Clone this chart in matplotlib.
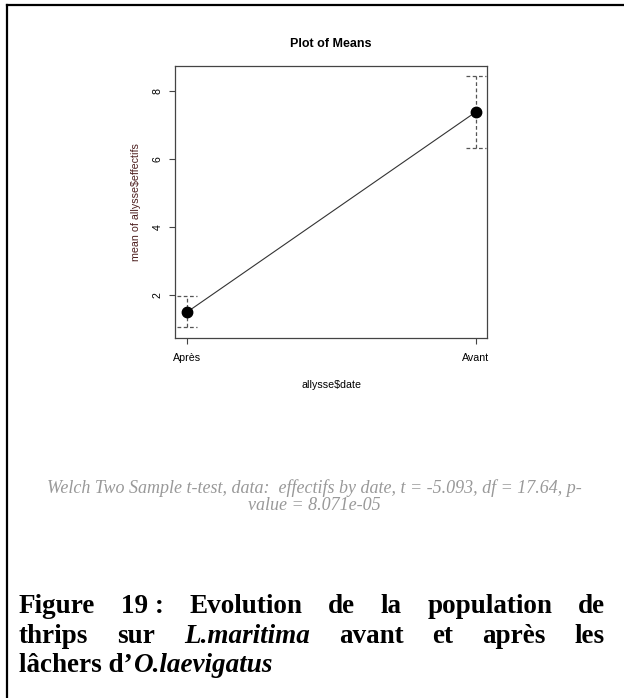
import matplotlib
matplotlib.use('Agg')
import matplotlib.pyplot as plt
from matplotlib.lines import Line2D

# data
groups = ['Après', 'Avant']
means = [1.50, 7.38]
upper = [1.97, 8.42]
lower = [1.05, 6.32]
yticks = [2, 4, 6, 8]

ttest_text = ('Welch Two Sample t-test, data:  effectifs by date, t = -5.093, df = 17.64, p-\n'
              'value = 8.071e-05')

fig = plt.figure(figsize=(6.24, 6.98), dpi=100)
W, H = 624, 698

ax = fig.add_axes([175 / W, 1 - 338 / H, 312 / W, 272 / H])
x = list(range(len(groups)))

ax.plot(x, means, color='#333333', lw=0.8, zorder=2)
ax.plot(x, means, 'o', color='black', markersize=7.5, zorder=3)
ax.vlines(x, lower, upper, colors='#555555', linestyles=(0, (3, 2)), lw=0.9)
cap = 0.035
for xi, lo, hi in zip(x, lower, upper):
    ax.hlines([lo, hi], xi - cap, xi + cap, colors='#555555', linestyles=(0, (3, 2)), lw=0.9)

ax.set_xlim(-0.042, 1.038)
ax.set_ylim(0.737, 8.725)
ax.set_xticks(x)
ax.set_xticklabels(groups, fontsize=7.7, family='Liberation Sans')
ax.set_yticks(yticks)
ax.set_yticklabels([str(t) for t in yticks], fontsize=7.7, family='Liberation Sans',
                   rotation=90, va='center')
ax.tick_params(axis='both', direction='out', length=4, width=0.8, color='#444444')
ax.tick_params(axis='y', pad=5)
ax.tick_params(axis='x', pad=7)
for s in ax.spines.values():
    s.set_color('#444444')
    s.set_linewidth(0.9)

ax.set_title('Plot of Means', fontsize=9, fontweight='bold', family='Liberation Sans', pad=14)
ax.set_xlabel('allysse$date', fontsize=7.7, family='Liberation Sans', labelpad=12)
ax.set_ylabel('mean of allysse$effectifs', fontsize=7.7, family='Liberation Sans',
              color='#4d1f1f', labelpad=8)

# t-test note
fig.text(314 / W, 1 - 497 / H, ttest_text, ha='center', va='center', fontsize=13,
         family='Liberation Serif', style='italic', color='#999999', linespacing=1.0)

# frame (top and left only)
lw_frame = 1.6
fig.add_artist(Line2D([6.5 / W, 6.5 / W], [0, 1 - 5 / H], transform=fig.transFigure,
                      color='black', lw=lw_frame))
fig.add_artist(Line2D([6.5 / W, 1], [1 - 5 / H, 1 - 5 / H], transform=fig.transFigure,
                      color='black', lw=lw_frame))

# justified caption
cap_size = 19.5
line1 = [('Figure', 'normal'), ('19 :', 'normal'), ('Evolution', 'normal'), ('de', 'normal'),
         ('la', 'normal'), ('population', 'normal'), ('de', 'normal')]
line2 = [('thrips', 'normal'), ('sur', 'normal'), ('L.maritima', 'italic'), ('avant', 'normal'),
         ('et', 'normal'), ('après', 'normal'), ('les', 'normal')]
left_px, right_px = 19, 605

fig.canvas.draw()
renderer = fig.canvas.get_renderer()


def place_justified(words, base_px):
    texts = []
    for w, st in words:
        t = fig.text(0, 1 - base_px / H, w, fontsize=cap_size, fontweight='bold', style=st,
                     family='Liberation Serif', va='baseline', ha='left')
        texts.append(t)
    widths = [t.get_window_extent(renderer).width for t in texts]
    gap = (right_px - left_px - sum(widths)) / (len(texts) - 1)
    xpos = left_px
    for t, wd in zip(texts, widths):
        t.set_x(xpos / W)
        xpos += wd + gap


place_justified(line1, 613)
place_justified(line2, 643)

t1 = fig.text(left_px / W, 1 - 672 / H, 'lâchers d’', fontsize=cap_size, fontweight='bold',
              family='Liberation Serif', va='baseline', ha='left')
w1 = t1.get_window_extent(renderer).width
fig.text((left_px + w1) / W, 1 - 672 / H, 'O.laevigatus', fontsize=cap_size, fontweight='bold',
         style='italic', family='Liberation Serif', va='baseline', ha='left')

fig.savefig('out.png', dpi=100)
